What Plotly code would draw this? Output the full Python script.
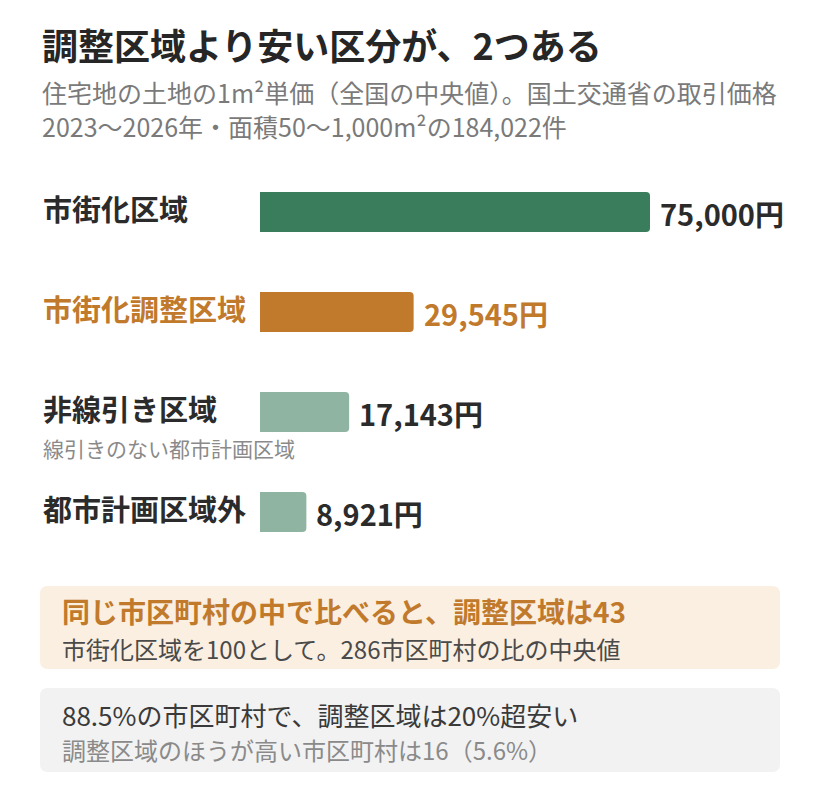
import plotly.graph_objects as go

# data
categories = ["市街化区域", "市街化調整区域", "非線引き区域", "都市計画区域外"]
prices = [75000, 29545, 17143, 8921]
sub_labels = ["", "", "線引きのない都市計画区域", ""]
bar_colors = ["#3a7d5c", "#c17a2c", "#8fb5a2", "#8fb5a2"]
label_colors = ["#2b2b2b", "#c17a2c", "#2b2b2b", "#2b2b2b"]

title = "調整区域より安い区分が、2つある"
subtitle_1 = "住宅地の土地の1m²単価（全国の中央値）。国土交通省の取引価格"
subtitle_2 = "2023〜2026年・面積50〜1,000m²の184,022件"

note_1_head = "同じ市区町村の中で比べると、調整区域は43"
note_1_body = "市街化区域を100として。286市区町村の比の中央値"
note_2_head = "88.5%の市区町村で、調整区域は20%超安い"
note_2_body = "調整区域のほうが高い市区町村は16（5.6%）"

W, H = 820, 796
OFF = 8  # page body margin
FONT = "Noto Sans CJK JP"


def px(x):
    return (x - OFF) / W


def py(y):
    return 1 - (y - OFF) / H


def rounded_box(x0, y0, x1, y1, r=8):
    # rounded rectangle path in paper coords, from pixel values
    rx, ry = r / W, r / H
    a, b, c, d = px(x0), py(y0), px(x1), py(y1)
    return (f"M {a+rx},{b} L {c-rx},{b} Q {c},{b} {c},{b-ry} "
            f"L {c},{d+ry} Q {c},{d} {c-rx},{d} L {a+rx},{d} "
            f"Q {a},{d} {a},{d+ry} L {a},{b-ry} Q {a},{b} {a+rx},{b} Z")


def note(text, x, y, size, color):
    return dict(text=text, x=px(x), y=py(y), xref="paper", yref="paper",
                xanchor="left", yanchor="middle", showarrow=False,
                font=dict(size=size, color=color, family=FONT))


fig = go.Figure()
fig.add_trace(go.Bar(
    x=prices,
    y=categories,
    orientation="h",
    width=0.4,
    marker=dict(color=bar_colors, cornerradius=4, line=dict(width=0)),
    hoverinfo="skip",
))

annotations = []
# titles
annotations.append(note("<b>" + title + "</b>", 40, 44, 36, "#262626"))
annotations.append(note(subtitle_1, 40, 92, 25, "#7a7a7a"))
annotations.append(note(subtitle_2, 40, 126, 25, "#7a7a7a"))

for cat, val, sub, lc in zip(categories, prices, sub_labels, label_colors):
    annotations.append(dict(text="<b>" + cat + "</b>", x=px(41), y=cat, xref="paper", yref="y",
                            xanchor="left", yanchor="middle", yshift=4, showarrow=False,
                            font=dict(size=29, color=lc, family=FONT)))
    if sub:
        annotations.append(dict(text=sub, x=px(41), y=cat, xref="paper", yref="y",
                                xanchor="left", yanchor="middle", yshift=-36, showarrow=False,
                                font=dict(size=21, color="#8a8a8a", family=FONT)))
    annotations.append(dict(text="<b>" + f"{val:,}円" + "</b>", x=val, y=cat, xref="x", yref="y",
                            xanchor="left", yanchor="middle", xshift=8, yshift=-1, showarrow=False,
                            font=dict(size=29, color=lc, family=FONT)))

# notes
annotations.append(note("<b>" + note_1_head + "</b>", 60, 611, 28, "#c17a2c"))
annotations.append(note(note_1_body, 60, 648, 24, "#4a4a4a"))
annotations.append(note(note_2_head, 60, 714, 26, "#3a3a3a"))
annotations.append(note(note_2_body, 60, 749, 24, "#8a8a8a"))

shapes = [
    dict(type="path", path=rounded_box(40, 586, 780, 669), xref="paper", yref="paper",
         fillcolor="#faefe1", line=dict(width=0), layer="below"),
    dict(type="path", path=rounded_box(40, 688, 780, 772), xref="paper", yref="paper",
         fillcolor="#f2f2f2", line=dict(width=0), layer="below"),
]

fig.update_layout(
    width=W,
    height=H,
    margin=dict(l=0, r=0, t=0, b=0),
    paper_bgcolor="white",
    plot_bgcolor="white",
    showlegend=False,
    font=dict(family=FONT),
    xaxis=dict(domain=[px(260), 1], range=[0, 75000 * (W + OFF - 260) / 390], visible=False, fixedrange=True),
    yaxis=dict(domain=[py(562), py(162)], type="category", categoryorder="array",
               categoryarray=categories, range=[3.5, -0.5], visible=False, fixedrange=True),
    annotations=annotations,
    shapes=shapes,
)

fig.write_html("out.html", config={"displayModeBar": False})
